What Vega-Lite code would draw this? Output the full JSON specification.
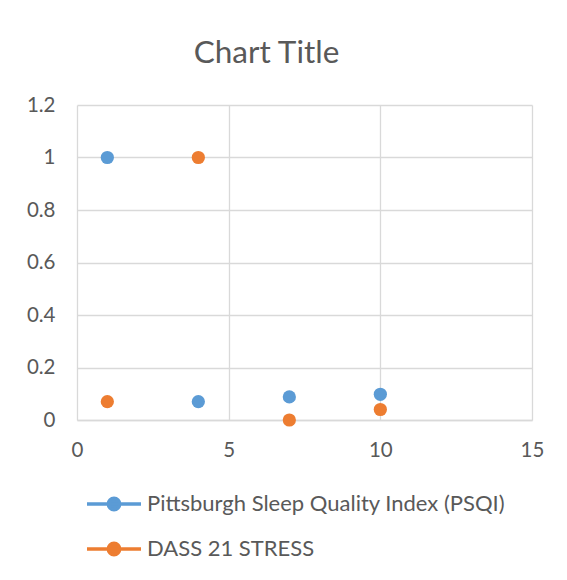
{
  "$schema": "https://vega.github.io/schema/vega-lite/v6.json",
  "width": 455,
  "height": 315,
  "autosize": "none",
  "padding": {"left": 77, "top": 105, "right": 35, "bottom": 160},
  "background": "white",
  "title": {
    "text": "Chart Title",
    "font": "Lato",
    "fontSize": 31.5,
    "fontWeight": "normal",
    "color": "#595959",
    "anchor": "middle",
    "frame": "group",
    "dx": -38,
    "baseline": "alphabetic",
    "offset": 1
  },
  "data": {
    "values": [
      {"series": "Pittsburgh Sleep Quality Index (PSQI)", "x": 1, "y": 1},
      {"series": "Pittsburgh Sleep Quality Index (PSQI)", "x": 4, "y": 0.07},
      {"series": "Pittsburgh Sleep Quality Index (PSQI)", "x": 7, "y": 0.088},
      {"series": "Pittsburgh Sleep Quality Index (PSQI)", "x": 10, "y": 0.098},
      {"series": "DASS 21 STRESS", "x": 1, "y": 0.07},
      {"series": "DASS 21 STRESS", "x": 4, "y": 1},
      {"series": "DASS 21 STRESS", "x": 7, "y": 0},
      {"series": "DASS 21 STRESS", "x": 10, "y": 0.04}
    ]
  },
  "mark": {"type": "point", "filled": true, "opacity": 1, "size": 175},
  "encoding": {
    "x": {
      "field": "x",
      "type": "quantitative",
      "scale": {"domain": [0, 15], "nice": false, "zero": false},
      "axis": {"values": [0, 5, 10, 15], "title": null, "labelFlush": false, "labelPadding": 20}
    },
    "y": {
      "field": "y",
      "type": "quantitative",
      "scale": {"domain": [0, 1.2], "nice": false},
      "axis": {"values": [0, 0.2, 0.4, 0.6, 0.8, 1, 1.2], "format": "~g", "title": null, "domain": false, "labelPadding": 22}
    },
    "color": {
      "field": "series",
      "type": "nominal",
      "scale": {
        "domain": ["Pittsburgh Sleep Quality Index (PSQI)", "DASS 21 STRESS"],
        "range": ["#5B9BD5", "#ED7D31"]
      },
      "legend": {
        "title": null,
        "orient": "none",
        "legendX": 8,
        "legendY": 370,
        "direction": "vertical",
        "padding": 0,
        "symbolSize": 2916,
        "symbolStrokeWidth": 3.5,
        "symbolOpacity": 1,
        "labelFont": "Lato",
        "labelFontSize": 22,
        "labelColor": "#595959",
        "labelOffset": 4,
        "rowPadding": 3,
        "labelLimit": 500,
        "encode": {
          "symbols": {
            "update": {
              "shape": {"value": "M-1,0L1,0M0.21,0A0.21,0.21,0,1,1,-0.21,0A0.21,0.21,0,1,1,0.21,0Z"},
              "size": {"value": 2916},
              "strokeWidth": {"value": 3.5},
              "stroke": {"scale": "color", "field": "value"},
              "fill": {"scale": "color", "field": "value"},
              "opacity": {"value": 1}
            }
          }
        }
      }
    }
  },
  "config": {
    "view": {"stroke": null},
    "axis": {
      "labelFont": "Lato",
      "labelFontSize": 20.5,
      "labelColor": "#595959",
      "gridColor": "#d9d9d9",
      "gridWidth": 1.3,
      "gridOpacity": 1,
      "domainColor": "#d9d9d9",
      "domainWidth": 1.3,
      "ticks": false
    }
  }
}
